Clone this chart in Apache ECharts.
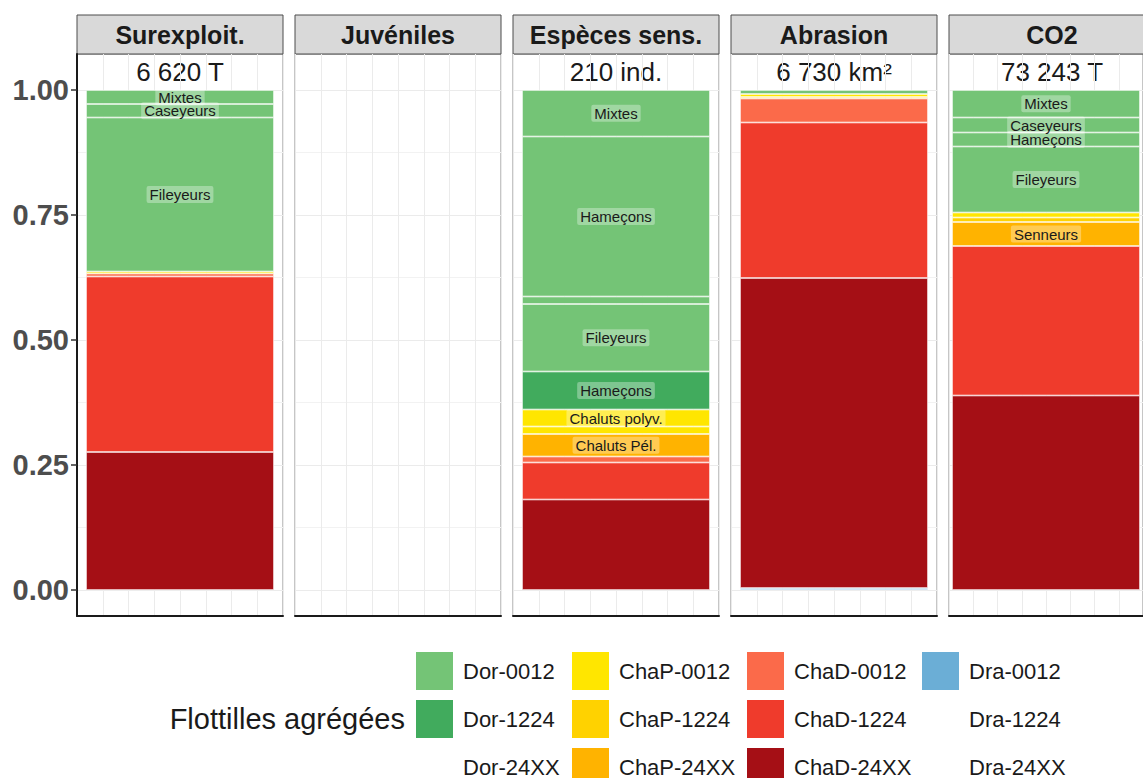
<!DOCTYPE html>
<html><head><meta charset="utf-8">
<script src="https://cdn.jsdelivr.net/npm/echarts@6/dist/echarts.min.js"></script>
<style>html,body{margin:0;padding:0;background:#fff}#c{width:1143px;height:778px}</style>
</head><body><div id="c"></div>
<script>
const panels = ['Surexploit.', 'Juvéniles', 'Espèces sens.', 'Abrasion', 'CO2'];
const totals = ['6 620 T', '', '210 ind.', '6 730 km²', '73 243 T'];
const fleets = ['Dor-0012','Dor-1224','Dor-24XX','ChaP-0012','ChaP-1224','ChaP-24XX','ChaD-0012','ChaD-1224','ChaD-24XX','Dra-0012','Dra-1224','Dra-24XX'];
const fleetColors = ['#74C476','#41AB5D','rgba(0,0,0,0)','#FFE600','#FFD200','#FFB300','#FB6A4A','#EF3B2C','#A50F15','#6BAED6','rgba(0,0,0,0)','rgba(0,0,0,0)'];

// segments bottom -> top : [fleet, label, share]
const surexploit = [
  ['ChaD-24XX', '', 0.276],
  ['ChaD-1224', '', 0.351],
  ['ChaD-0012', '', 0.006],
  ['ChaP-0012', '', 0.004],
  ['Dor-0012', 'Fileyeurs', 0.308],
  ['Dor-0012', 'Caseyeurs', 0.027],
  ['Dor-0012', 'Mixtes', 0.028]
];
const juveniles = [];
const especes = [
  ['ChaD-24XX', '', 0.181],
  ['ChaD-1224', '', 0.074],
  ['ChaD-0012', '', 0.012],
  ['ChaP-24XX', 'Chaluts Pél.', 0.045],
  ['ChaP-0012', '', 0.015],
  ['ChaP-0012', 'Chaluts polyv.', 0.034],
  ['Dor-1224', 'Hameçons', 0.076],
  ['Dor-0012', 'Fileyeurs', 0.135],
  ['Dor-0012', '', 0.015],
  ['Dor-0012', 'Hameçons', 0.320],
  ['Dor-0012', 'Mixtes', 0.093]
];
const abrasion = [
  ['Dra-0012', '', 0.004],
  ['ChaD-24XX', '', 0.620],
  ['ChaD-1224', '', 0.311],
  ['ChaD-0012', '', 0.048],
  ['ChaP-24XX', '', 0.003],
  ['ChaP-0012', '', 0.006],
  ['Dor-0012', '', 0.008]
];
const co2 = [
  ['ChaD-24XX', '', 0.389],
  ['ChaD-1224', '', 0.299],
  ['ChaP-24XX', 'Senneurs', 0.048],
  ['ChaP-1224', '', 0.009],
  ['ChaP-0012', '', 0.010],
  ['Dor-0012', 'Fileyeurs', 0.132],
  ['Dor-0012', 'Hameçons', 0.028],
  ['Dor-0012', 'Caseyeurs', 0.030],
  ['Dor-0012', 'Mixtes', 0.055]
];
const panelData = [surexploit, juveniles, especes, abrasion, co2];
const yTicks = [0, 0.25, 0.5, 0.75, 1];
const yMinor = [0.125, 0.375, 0.625, 0.875];

const FONT = 'Liberation Sans, Arial, sans-serif';
const P0 = 77, STEP = 218, PW = 206, PT = 54, PH = 562;
const colorOf = f => fleetColors[fleets.indexOf(f)];

const grid = [], xAxis = [], yAxis = [], series = [], graphic = [];
panels.forEach((name, p) => {
  const left = P0 + p * STEP;
  grid.push({left: left, top: PT, width: PW, height: PH, show: true, borderColor: '#8c8c8c', borderWidth: 1, backgroundColor: '#fff'});
  xAxis.push({type: 'category', gridIndex: p, data: ['x'], position: 'bottom',
    axisLine: {show: true, onZero: false, lineStyle: {color: '#1a1a1a', width: 2}},
    axisTick: {show: false}, axisLabel: {show: false}, splitLine: {show: false}});
  xAxis.push({type: 'value', gridIndex: p, min: 0, max: 8, interval: 1, position: 'top',
    axisLine: {show: false}, axisTick: {show: false}, axisLabel: {show: false},
    splitLine: {show: true, lineStyle: {color: '#ebebeb', width: 1}}});
  yAxis.push({type: 'value', gridIndex: p, min: -0.052, max: 1.072,
    axisLine: {show: p === 0, onZero: false, lineStyle: {color: '#1a1a1a', width: 2}},
    axisTick: {show: p === 0, length: 6, customValues: yTicks, lineStyle: {color: '#333', width: 1.5}},
    axisLabel: {show: p === 0, customValues: yTicks, formatter: v => v.toFixed(2), fontSize: 29, fontWeight: 'bold', color: '#4d4d4d', margin: 8, fontFamily: FONT},
    splitLine: {show: true, lineStyle: {color: '#ebebeb', width: 1.2}}});
  yAxis.push({type: 'value', gridIndex: p, min: -0.052, max: 1.072,
    axisLine: {show: false}, axisTick: {show: false, customValues: yMinor},
    axisLabel: {show: false, customValues: yMinor},
    splitLine: {show: true, lineStyle: {color: '#f2f2f2', width: 1}}});

  panelData[p].forEach(([fleet, label, v]) => {
    series.push({type: 'bar', name: fleet, xAxisIndex: 2 * p, yAxisIndex: 2 * p, stack: 's' + p,
      barWidth: 188, data: [v], z: 3,
      itemStyle: {color: colorOf(fleet), borderColor: '#fff', borderWidth: 0.7},
      label: {show: !!label, formatter: label, position: 'inside', fontSize: 15,
        color: '#1a1a1a', backgroundColor: 'rgba(255,255,255,0.32)', padding: [1, 3], borderRadius: 2,
        fontFamily: FONT},
      emphasis: {disabled: true}, silent: true});
  });

  graphic.push({type: 'rect', shape: {x: left, y: 15, width: PW, height: 39},
    style: {fill: '#d9d9d9', stroke: '#4d4d4d', lineWidth: 1}});
  graphic.push({type: 'text', x: left + PW / 2, y: 34.5,
    style: {text: name, textAlign: 'center', textVerticalAlign: 'middle', fontSize: 25, fontWeight: 'bold', fill: '#1a1a1a', fontFamily: FONT}});
  if (totals[p]) graphic.push({type: 'text', x: left + PW / 2, y: 72,
    style: {text: totals[p], textAlign: 'center', textVerticalAlign: 'middle', fontSize: 26, fill: '#1a1a1a', fontFamily: FONT}});
});

// placeholder series so absent fleets appear in the legend
fleets.forEach(f => {
  if (!panelData.some(d => d.some(s => s[0] === f))) {
    series.push({type: 'bar', name: f, xAxisIndex: 0, yAxisIndex: 0, stack: 's0', data: [], itemStyle: {color: colorOf(f)}});
  }
});

graphic.push({type: 'text', x: 405, y: 719,
  style: {text: 'Flottilles agrégées', textAlign: 'right', textVerticalAlign: 'middle', fontSize: 29, fill: '#1a1a1a', fontFamily: FONT}});

const legendLeft = [416, 572, 747, 922];
const legend = legendLeft.map((l, c) => ({
  data: fleets.slice(c * 3, c * 3 + 3), orient: 'vertical', left: l, top: 652, height: 200, padding: 0,
  itemWidth: 37, itemHeight: 38, itemGap: 10, icon: 'rect', selectedMode: false,
  itemStyle: {borderWidth: 0},
  textStyle: {fontSize: 22, color: '#1a1a1a', padding: [0, 0, 0, 5], fontFamily: FONT}
}));

const chart = echarts.init(document.getElementById('c'), null, {renderer: 'svg'});
chart.setOption({animation: false, backgroundColor: '#fff', grid, xAxis, yAxis, series, legend, graphic,
  textStyle: {fontFamily: FONT}});
</script></body></html>
